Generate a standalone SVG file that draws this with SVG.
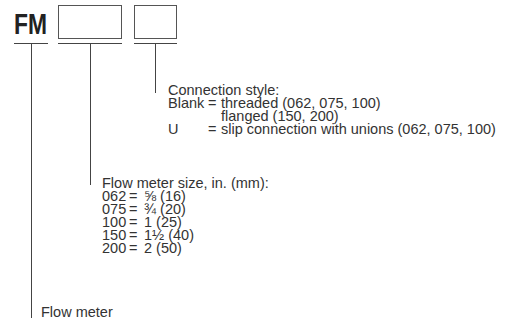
<svg xmlns="http://www.w3.org/2000/svg" width="505" height="325" viewBox="0 0 505 325">
<style>
.t{font-family:"Liberation Sans",Arial,sans-serif;font-size:14.5px;fill:#333;}
.fm{font-family:"Liberation Sans",Arial,sans-serif;font-size:29px;font-weight:bold;fill:#222;}
.box{fill:#fff;stroke:#555;stroke-width:1;}
.ln{stroke:#444;stroke-width:1;fill:none;}
</style>
<rect width="505" height="325" fill="#fff"/>
<g id="code">
<text class="fm" x="14" y="34" textLength="33" lengthAdjust="spacingAndGlyphs">FM</text>
<rect class="box" x="58.5" y="5.5" width="63" height="33"/>
<rect class="box" x="134.5" y="5.5" width="42" height="33"/>
</g>
<g id="connectors">
<path class="ln" d="M14 43.5H48 M58 43.5H122 M134 43.5H177"/>
<path class="ln" d="M31.5 43.5V318 M90.5 43.5V185 M155.5 43.5V93"/>
</g>
<g id="connection-style">
<text class="t"><tspan x="168" y="95">Connection style:</tspan><tspan x="168" y="108">Blank</tspan><tspan x="208" y="108">=</tspan><tspan x="221" y="108">threaded (062, 075, 100)</tspan><tspan x="221" y="121">flanged (150, 200)</tspan><tspan x="168" y="134">U</tspan><tspan x="208" y="134">=</tspan><tspan x="221" y="134">slip connection with unions (062, 075, 100)</tspan></text>
</g>
<g id="size">
<text class="t"><tspan x="102" y="188">Flow meter size, in. (mm):</tspan><tspan x="102" y="201">062</tspan><tspan x="129" y="201">=</tspan><tspan x="144" y="201">⅝ (16)</tspan><tspan x="102" y="214">075</tspan><tspan x="129" y="214">=</tspan><tspan x="144" y="214">¾ (20)</tspan><tspan x="102" y="227">100</tspan><tspan x="129" y="227">=</tspan><tspan x="144" y="227">1 (25)</tspan><tspan x="102" y="240">150</tspan><tspan x="129" y="240">=</tspan><tspan x="144" y="240">1½ (40)</tspan><tspan x="102" y="253">200</tspan><tspan x="129" y="253">=</tspan><tspan x="144" y="253">2 (50)</tspan></text>
</g>
<g id="flow-meter">
<text class="t" x="41" y="317">Flow meter</text>
</g>
</svg>
